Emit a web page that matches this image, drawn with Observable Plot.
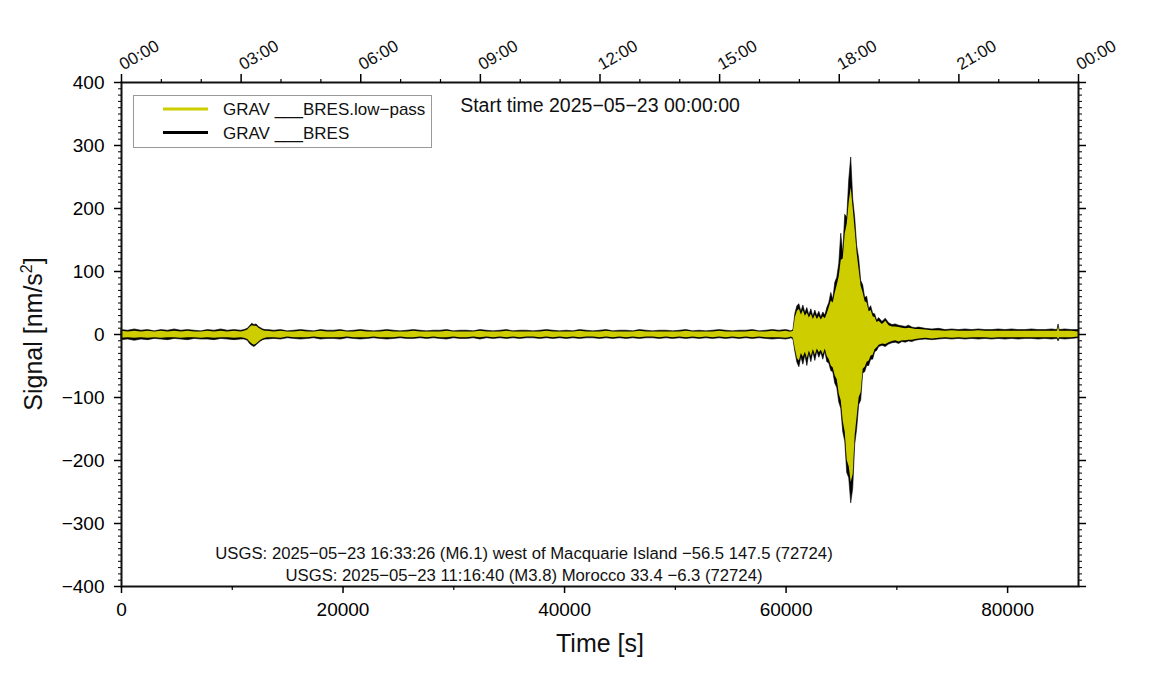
<!DOCTYPE html>
<html><head><meta charset="utf-8">
<script src="https://cdn.jsdelivr.net/npm/d3@7"></script>
<script src="https://cdn.jsdelivr.net/npm/@observablehq/plot@0.6"></script>
<style>body{margin:0;background:#fff;font-family:"Liberation Sans",Arial,sans-serif}</style>
</head><body><div id="chart"></div>
<script>
// ---- sample times (s since 2025-05-23 00:00:00) ----
const timeQuietA = [0,600,1200,1800,2400,3000,3600,4200,4800,5400,6000,6600,7200,7800,8400,9000,9600,10200,10800,11100];
const timeBlip = [11400,11600,11800,12000,12200,12400,12600,12800,13000];
const timeQuietB = [13200,13800,14400,15000,15600,16200,16800,17400,18000,18600,19200,19800,20400,21000,21600,22200,22800,23400,24000,24600,
 25200,25800,26400,27000,27600,28200,28800,29400,30000,30600,31200,31800,32400,33000,33600,34200,34800,35400,36000,36600,
 37200,37800,38400,39000,39600,40200,40800,41400,42000,42600,43200,43800,44400,45000,45600,46200,46800,47400,48000,48600,
 49200,49800,50400,51000,51600,52200,52800,53400,54000,54600,55200,55800,56400,57000,57600,58200,58800,59400,60000];
const timeEvent = [60300,60480,60660,60840,61020,61200,61380,61560,61740,61920,62100,62280,62460,62640,62820,63000,63180,63360,63540,63720,
 63900,64080,64260,64440,64620,64800,64980,65160,65340,65520,65700,65880,66060,66240,66420,66600,66780,66960,67140,67320,
 67500,67680,67860,68040,68220,68400];
const timeCoda = [68700,69000,69300,69600,69900,70200,70500,70800,71100,71400,71700,72000];
const timeTail = [72600,73200,73800,74400,75000,75600,76200,76800,77400,78000,78600,79200,79800,80400,81000,81600,82200,82800,83400,84000,
 84500,84600,84700,85200,85800,86400];

// ---- GRAV ___BRES raw signal envelope (nm/s^2) ----
const rawMax = [
 7,6,8,6,7,5,7,6,8,6,7,6,5,7,6,8,6,7,6,7,
 9,13,17,15,16,12,10,8,7,
 7,6,7,5,6,7,6,5,7,6,6,7,5,6,7,6,5,6,7,6,5,6,7,6,5,6,6,7,5,6,6,5,7,6,5,6,7,5,6,6,
 5,6,7,6,5,6,5,7,6,5,6,7,5,6,6,5,7,6,5,6,6,5,6,7,5,6,5,6,7,6,5,6,6,7,5,6,7,6,7,
 6,5,7,33,45,48,36,46,34,42,30,40,28,38,29,36,27,35,30,42,50,66,55,82,90,112,160,128,190,185,245,281,215,185,140,120,85,78,58,60,40,45,33,32,22,26,
 20,25,18,15,16,14,13,12,14,11,10,11,
 9,8,9,7,8,7,8,7,8,7,7,8,7,8,7,7,8,7,7,8,7,16,7,8,7,7];
const rawMin = [
 -9,-8,-10,-8,-9,-7,-8,-9,-7,-8,-9,-7,-8,-8,-9,-7,-8,-9,-8,-8,
 -10,-15,-18,-20,-17,-14,-11,-9,-8,
 -8,-7,-8,-6,-7,-8,-7,-6,-8,-7,-7,-8,-6,-7,-8,-7,-6,-7,-8,-7,-6,-7,-7,-6,-7,-6,-7,-8,-6,-7,-7,-6,-8,-6,-7,-6,-7,-6,-7,-6,
 -6,-7,-6,-7,-6,-7,-6,-7,-6,-6,-7,-6,-7,-6,-7,-6,-7,-6,-6,-7,-6,-7,-6,-7,-6,-7,-6,-7,-6,-7,-6,-7,-6,-7,-6,-7,-8,-7,-8,
 -7,-6,-8,-28,-45,-52,-36,-48,-33,-50,-30,-44,-28,-42,-27,-37,-29,-40,-27,-44,-46,-58,-60,-78,-85,-108,-118,-155,-170,-220,-228,-268,-245,-175,-150,-112,-105,-62,-60,-50,-50,-40,-40,-28,-26,-20,
 -18,-20,-16,-14,-13,-15,-12,-13,-11,-12,-10,-9,
 -8,-9,-8,-7,-8,-7,-8,-7,-8,-7,-8,-7,-8,-7,-8,-7,-7,-8,-7,-8,-7,-11,-7,-8,-7,-6];
// ---- GRAV ___BRES.low-pass envelope (nm/s^2) ----
const lowMax = [
 5,4,5,4,5,4,5,4,5,4,5,4,4,5,4,5,4,5,4,5,
 7,11,14,13,13,10,8,6,5,
 5,4,5,4,4,5,4,4,5,4,4,5,4,4,5,4,4,4,5,4,4,4,5,4,4,4,4,5,4,4,4,4,5,4,4,4,5,4,4,4,
 4,4,5,4,4,4,4,5,4,4,4,5,4,4,4,4,5,4,4,4,4,4,4,5,4,4,4,4,5,4,4,4,4,5,4,4,5,4,5,
 4,4,5,27,37,40,31,38,29,34,26,32,24,31,24,29,23,28,25,33,43,53,50,66,78,92,118,120,160,175,210,233,200,165,128,102,76,66,52,50,36,38,28,27,19,21,
 16,21,14,12,12,11,10,9,10,9,8,8,
 7,6,6,5,6,5,5,5,6,5,5,5,5,5,5,5,5,5,5,5,5,12,5,5,5,4];
const lowMin = [
 -6,-5,-6,-5,-6,-5,-6,-5,-5,-6,-5,-5,-6,-5,-6,-5,-5,-6,-5,-6,
 -8,-12,-15,-17,-15,-12,-9,-7,-6,
 -5,-5,-6,-4,-5,-5,-5,-4,-5,-5,-5,-5,-4,-5,-5,-5,-4,-5,-5,-5,-4,-5,-5,-4,-5,-4,-5,-5,-4,-5,-5,-4,-5,-4,-5,-4,-5,-4,-5,-4,
 -4,-5,-4,-5,-4,-5,-4,-5,-4,-4,-5,-4,-5,-4,-5,-4,-5,-4,-4,-5,-4,-5,-4,-5,-4,-5,-4,-5,-4,-5,-4,-5,-4,-5,-4,-5,-5,-5,-6,
 -5,-4,-6,-23,-38,-42,-30,-36,-28,-38,-26,-35,-24,-33,-23,-29,-25,-32,-23,-35,-40,-50,-53,-66,-72,-95,-105,-138,-155,-200,-210,-235,-222,-160,-130,-100,-92,-55,-52,-44,-42,-34,-33,-24,-21,-17,
 -15,-16,-13,-11,-10,-12,-10,-10,-9,-9,-8,-7,
 -6,-7,-6,-5,-6,-5,-6,-5,-5,-5,-6,-5,-5,-5,-5,-5,-5,-5,-5,-5,-5,-8,-5,-5,-5,-4];

// ---- ticks ----
const bottomTicks = [0,20000,40000,60000,80000];
const bottomMinorTicks = [10000,30000,50000,70000];
const yTicks = [-400,-300,-200,-100,0,100,200,300,400];
const yMinorTicks = d3.range(-400, 401, 10);
const topTicks = [0,10800,21600,32400,43200,54000,64800,75600,86400];
const topTickLabels = ["00:00","03:00","06:00","09:00","12:00","15:00","18:00","21:00","00:00"];
const topMinorTicks = [3600,7200,14400,18000,25200,28800,36000,39600,46800,50400,57600,61200,68400,72000,79200,82800];

const seriesNames = ["GRAV ___BRES.low\u2212pass","GRAV ___BRES"];
const seriesColors = ["#cdcd00","#000000"];
const startText = "Start time 2025\u221205\u221223 00:00:00";
const eventLines = ["USGS: 2025\u221205\u221223 16:33:26 (M6.1) west of Macquarie Island \u221256.5 147.5 (72724)",
                    "USGS: 2025\u221205\u221223 11:16:40 (M3.8) Morocco 33.4 \u22126.3 (72724)"];

const time = [...timeQuietA, ...timeBlip, ...timeQuietB, ...timeEvent, ...timeCoda, ...timeTail];
const rows = time.map((t, i) => ({t, rHi: rawMax[i], rLo: rawMin[i], lHi: lowMax[i], lLo: lowMin[i]}));
const topRows = topTicks.map((t, i) => ({t, label: topTickLabels[i]}));

const FONT = "Liberation Sans, Arial, Helvetica, sans-serif";
const svg = Plot.plot({
  width: 1151, height: 700,
  marginLeft: 121, marginRight: 73, marginTop: 82, marginBottom: 114,
  style: {fontFamily: FONT, background: "#fff", overflow: "visible"},
  x: {domain: [0, 86400]},
  y: {domain: [-400, 400]},
  marks: [
    Plot.areaY(rows, {x: "t", y1: "rLo", y2: "rHi", fill: seriesColors[1], stroke: seriesColors[1], strokeWidth: 0.6}),
    Plot.areaY(rows, {x: "t", y1: "lLo", y2: "lHi", fill: seriesColors[0]}),
    Plot.frame({stroke: "#111", strokeWidth: 2}),
    Plot.axisX(bottomTicks, {anchor: "bottom", tickSize: 7, tickPadding: 9, fontSize: 19, strokeWidth: 1.5, label: null, tickFormat: d => String(d)}),
    Plot.axisX(bottomMinorTicks, {anchor: "bottom", tickSize: 4, strokeWidth: 1.2, label: null, tickFormat: () => ""}),
    Plot.axisX(topTicks, {anchor: "top", tickSize: 9, strokeWidth: 1.5, label: null, tickFormat: () => ""}),
    Plot.axisX(topMinorTicks, {anchor: "top", tickSize: 4, strokeWidth: 1.2, label: null, tickFormat: () => ""}),
    Plot.text(topRows, {x: "t", text: "label", frameAnchor: "top", dx: 2, dy: -12, rotate: -30, textAnchor: "start", lineAnchor: "bottom", fontSize: 17, fill: "#111"}),
    Plot.axisY(yTicks, {anchor: "left", tickSize: 7, tickPadding: 10, fontSize: 19, strokeWidth: 1.5, label: null}),
    Plot.axisY(yMinorTicks, {anchor: "left", tickSize: 3, strokeWidth: 1, label: null, tickFormat: () => ""}),
    Plot.axisY(yTicks, {anchor: "right", tickSize: 7, strokeWidth: 1.5, label: null, tickFormat: () => ""}),
    Plot.axisY(yMinorTicks, {anchor: "right", tickSize: 3, strokeWidth: 1, label: null, tickFormat: () => ""})
  ]
});
document.getElementById("chart").appendChild(svg);

const s = d3.select(svg);
// axis titles
s.append("text").attr("x", 600).attr("y", 652).attr("text-anchor", "middle")
  .attr("font-size", 25).attr("font-family", FONT).attr("fill", "#111").text("Time [s]");
const yl = s.append("text").attr("transform", "translate(42,334) rotate(-90)").attr("text-anchor", "middle")
  .attr("font-size", 25).attr("font-family", FONT).attr("fill", "#111");
yl.append("tspan").text("Signal [nm/s");
yl.append("tspan").attr("font-size", 16).attr("dy", -10).text("2");
yl.append("tspan").attr("dy", 10).text("]");
// start time
s.append("text").attr("x", 600).attr("y", 112).attr("text-anchor", "middle")
  .attr("font-size", 19.5).attr("font-family", FONT).attr("fill", "#111").text(startText);
// event annotations
eventLines.forEach((txt, i) => {
  s.append("text").attr("x", 524).attr("y", 559 + i * 22).attr("text-anchor", "middle")
    .attr("font-size", 16.7).attr("font-family", FONT).attr("fill", "#111").text(txt);
});
// legend
const lg = s.append("g");
lg.append("rect").attr("x", 133.5).attr("y", 95.5).attr("width", 298).attr("height", 52)
  .attr("fill", "#fff").attr("stroke", "#999").attr("stroke-width", 1);
seriesNames.forEach((name, i) => {
  const y = 109 + i * 23.5;
  lg.append("line").attr("x1", 163).attr("x2", 208).attr("y1", y).attr("y2", y)
    .attr("stroke", seriesColors[i]).attr("stroke-width", 3);
  lg.append("text").attr("x", 223).attr("y", y + 6).attr("text-anchor", "start").attr("font-size", 17).attr("font-family", FONT)
    .attr("fill", "#111").text(name);
});
</script></body></html>
